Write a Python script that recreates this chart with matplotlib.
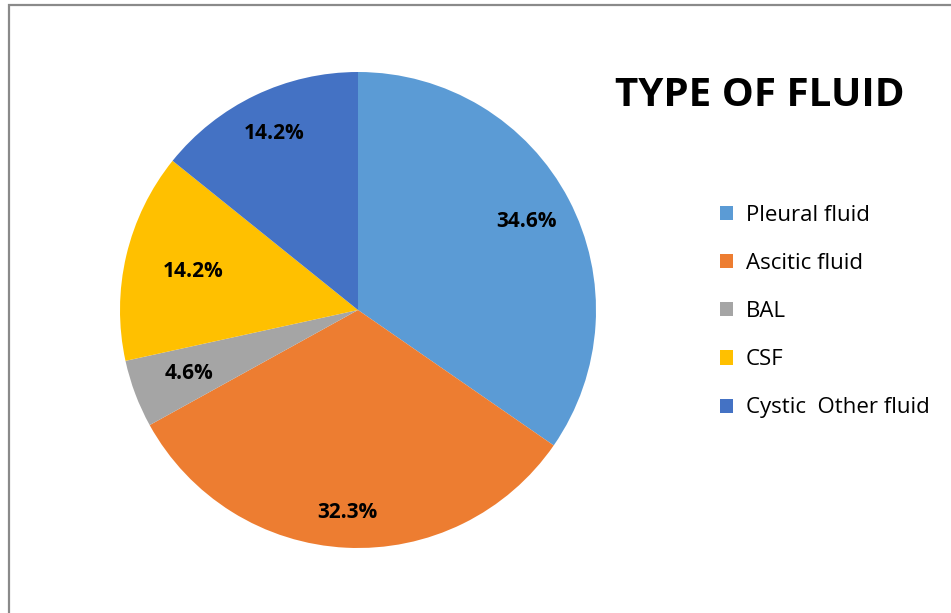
import numpy as np
import matplotlib.pyplot as plt
from matplotlib.patches import Rectangle

# Share of samples by fluid type
fluid_types = ["Pleural fluid", "Ascitic fluid", "BAL", "CSF", "Cystic  Other fluid"]
percentages = [34.6, 32.3, 4.6, 14.2, 14.2]
colors = ["#5B9BD5", "#ED7D31", "#A5A5A5", "#FFC000", "#4472C4"]
# radial position of each percentage label (fraction of radius)
label_dist = [0.80, 0.85, 0.76, 0.71, 0.82]

plt.rcParams['font.family'] = ['Open Sans', 'DejaVu Sans']

W, H = 951, 613
fig = plt.figure(figsize=(W / 100, H / 100), dpi=100)

# thin grey frame around the chart area (runs off the right/bottom edge)
fig.patches.append(Rectangle((8.5 / W, -0.1), 1.2, (H - 4.5) / H + 0.1,
                             transform=fig.transFigure, fill=False,
                             edgecolor="#8a8a8a", linewidth=1.6))

cx, cy, r = 358, 310, 238
ax = fig.add_axes([(cx - r) / W, (H - cy - r) / H, 2 * r / W, 2 * r / H])
wedges, _ = ax.pie(percentages, colors=colors, startangle=90,
                   counterclock=False, wedgeprops=dict(linewidth=0))
for w, p, d in zip(wedges, percentages, label_dist):
    mid = np.deg2rad((w.theta1 + w.theta2) / 2)
    ax.text(d * np.cos(mid), d * np.sin(mid), f"{p:.1f}%", ha="center",
            va="center", fontsize=15, fontweight="bold", color="black")
ax.set_xlim(-1, 1)
ax.set_ylim(-1, 1)
ax.set_aspect("equal")
ax.axis("off")

fig.text(760 / W, 1 - 95 / H, "TYPE OF FLUID", ha="center", va="center",
         fontsize=29, fontweight="bold")

fig.legend(wedges, fluid_types, loc="upper left",
           bbox_to_anchor=(700 / W, 1 - 185 / H), frameon=False,
           fontsize=16, handlelength=0.6, handleheight=0.6,
           handletextpad=0.55, labelspacing=1.22)

fig.savefig("out.png", dpi=100)
